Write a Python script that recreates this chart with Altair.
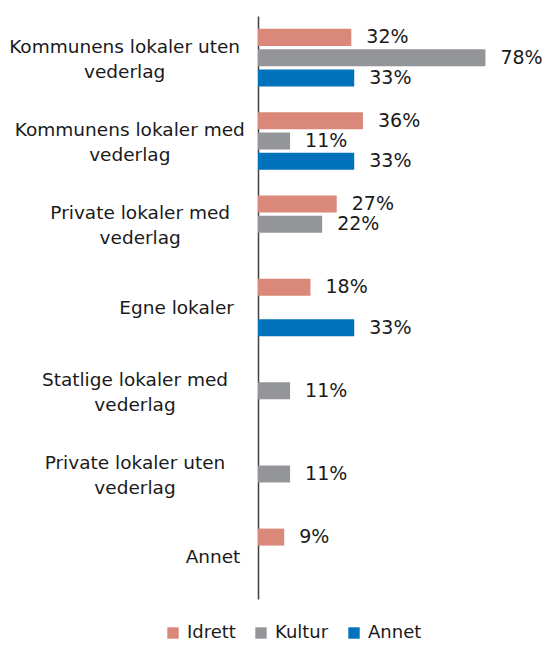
import altair as alt
import pandas as pd

categories = [
    "Kommunens lokaler uten\nvederlag",
    "Kommunens lokaler med\nvederlag",
    "Private lokaler med\nvederlag",
    "Egne lokaler",
    "Statlige lokaler med\nvederlag",
    "Private lokaler uten\nvederlag",
    "Annet",
]
series = ["Idrett", "Kultur", "Annet"]
idrett = [0.32, 0.36, 0.27, 0.18, 0.0, 0.0, 0.09]
kultur = [0.78, 0.11, 0.22, 0.0, 0.11, 0.11, 0.0]
annet = [0.33, 0.33, 0.0, 0.33, 0.0, 0.0, 0.0]
colors = ["#D9887A", "#939598", "#0072BC"]

rows = []
for i, c in enumerate(categories):
    for s, vals in zip(series, [idrett, kultur, annet]):
        if vals[i] > 0:
            rows.append({"cat": c, "serie": s, "value": vals[i]})
df = pd.DataFrame(rows)
cat_df = pd.DataFrame({"cat": categories})

y_scale = alt.Scale(domain=categories, paddingInner=0.27, paddingOuter=0.135)
y_axis = alt.Axis(labels=False, ticks=False, title=None, domainColor="#404040",
                  domainWidth=1.5, grid=False)
y = alt.Y("cat:N", sort=categories, scale=y_scale, axis=y_axis)
yoff = alt.YOffset("serie:N", scale=alt.Scale(domain=series, paddingInner=0.16, paddingOuter=0.08))
x = alt.X("value:Q", scale=alt.Scale(domain=[0, 0.95]), axis=None)

bars = alt.Chart(df).mark_bar().encode(
    x=x, y=y, yOffset=yoff,
    color=alt.Color("serie:N", scale=alt.Scale(domain=series, range=colors),
                    legend=alt.Legend(title=None, orient="none", direction="horizontal",
                                      legendX=-94, legendY=608,
                                      symbolType="square", symbolSize=130, symbolStrokeWidth=0,
                                      labelFontSize=18, labelColor="#1a1a1a", labelOffset=5,
                                      columnPadding=16)),
)

labels = alt.Chart(df).mark_text(align="left", baseline="middle", dx=15, fontSize=19,
                                 color="#1a1a1a").encode(
    x=x, y=y, yOffset=yoff,
    text=alt.Text("value:Q", format=".0%"),
)

cats = alt.Chart(cat_df).transform_calculate(
    px="-19 - length(split(datum.cat, '\\n')[0]) * 5.2",
    n="length(split(datum.cat, '\\n'))",
).mark_text(align="center", baseline="middle", fontSize=18.5, lineHeight=25,
            lineBreak="\n", color="#1a1a1a",
            dy={"expr": "-(datum.n - 1) * 11"}).encode(
    y=y,
    x=alt.X("px:Q", scale=None, axis=None),
    text="cat:N",
)

chart = alt.layer(bars, labels, cats).properties(
    width=277, height=583,
    padding={"left": 250, "top": 8, "right": 11, "bottom": 47},
    autosize=alt.AutoSizeParams(type="none"),
).configure(font="DejaVu Sans").configure_view(stroke=None)

chart.save("out.html", embed_options={"renderer": "svg", "actions": False})
